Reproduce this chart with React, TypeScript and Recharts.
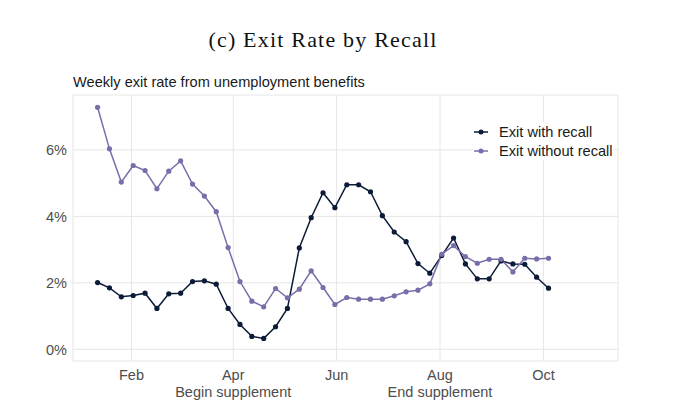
import React from "react";
import { LineChart, Line, XAxis, YAxis, CartesianGrid } from "recharts";

// weekly observations (week ending)
const weeks = [
  "2020-01-12", "2020-01-19", "2020-01-26", "2020-02-02", "2020-02-09", "2020-02-16",
  "2020-02-23", "2020-03-01", "2020-03-08", "2020-03-15", "2020-03-22", "2020-03-29",
  "2020-04-05", "2020-04-12", "2020-04-19", "2020-04-26", "2020-05-03", "2020-05-10",
  "2020-05-17", "2020-05-24", "2020-05-31", "2020-06-07", "2020-06-14", "2020-06-21",
  "2020-06-28", "2020-07-05", "2020-07-12", "2020-07-19", "2020-07-26", "2020-08-02",
  "2020-08-09", "2020-08-16", "2020-08-23", "2020-08-30", "2020-09-06", "2020-09-13",
  "2020-09-20", "2020-09-27", "2020-10-04",
];

const withRecall = [
  2.01, 1.85, 1.58, 1.62, 1.69, 1.23, 1.67, 1.69, 2.04, 2.06, 1.96, 1.23, 0.75,
  0.39, 0.33, 0.68, 1.23, 3.05, 3.96, 4.71, 4.26, 4.95, 4.95, 4.74, 4.02, 3.53,
  3.24, 2.58, 2.29, 2.82, 3.35, 2.57, 2.12, 2.12, 2.66, 2.57, 2.56, 2.17, 1.84,
];

const withoutRecall = [
  7.28, 6.03, 5.03, 5.53, 5.38, 4.83, 5.36, 5.67, 4.97, 4.61, 4.14, 3.06, 2.04,
  1.45, 1.28, 1.83, 1.55, 1.81, 2.36, 1.86, 1.35, 1.56, 1.51, 1.51, 1.51, 1.61,
  1.73, 1.78, 1.97, 2.86, 3.12, 2.79, 2.59, 2.71, 2.71, 2.33, 2.74, 2.72, 2.74,
];

const monthTicks = ["2020-02-01", "2020-04-01", "2020-06-01", "2020-08-01", "2020-10-01"];
const monthLabels = [["Feb"], ["Apr", "Begin supplement"], ["Jun"], ["Aug", "End supplement"], ["Oct"]];
const yTicks = [0, 2, 4, 6];

const DAY = 86400000;
const feb1 = Date.parse("2020-02-01");
const xDomain = [feb1 - 34.5 * DAY, feb1 + 287 * DAY];

const data = weeks.map((w, i) => ({
  t: Date.parse(w),
  recall: withRecall[i],
  noRecall: withoutRecall[i],
}));

const tickTimes = monthTicks.map((d) => Date.parse(d));

const DARK = "#0c1c38";
const PURPLE = "#7a6eaa";
const FONT = "'Liberation Sans', Arial, sans-serif";

const XTick = (props: any) => {
  const { x, y, payload } = props;
  const idx = tickTimes.indexOf(payload.value);
  const lines = idx >= 0 ? monthLabels[idx] : [];
  return (
    <text x={x} y={y} textAnchor="middle" fill="#4d4d4d" fontSize={14.5} fontFamily={FONT}>
      {lines.map((l, i) => (
        <tspan key={i} x={x} dy={i === 0 ? 19 : 17}>{l}</tspan>
      ))}
    </text>
  );
};

const legendItems = [
  { label: "Exit with recall", color: DARK },
  { label: "Exit without recall", color: PURPLE },
];

export default function App() {
  return (
    <div style={{ position: "absolute", left: 0, top: 0, width: 680, height: 420, background: "#fff" }}>
      <div
        style={{
          position: "absolute", left: 0, top: 29, width: 646, textAlign: "center",
          fontFamily: "'Liberation Serif', 'Times New Roman', serif", fontSize: 22,
          lineHeight: "22px", letterSpacing: 1.2, color: "#111",
        }}
      >
        (c) Exit Rate by Recall
      </div>
      <div
        style={{
          position: "absolute", left: 73, top: 75, fontFamily: FONT, fontSize: 14.6,
          lineHeight: "14px", color: "#1a1a1a",
        }}
      >
        Weekly exit rate from unemployment benefits
      </div>
      <LineChart
        width={680}
        height={420}
        data={data}
        margin={{ top: 95, right: 62, left: 13, bottom: 29 }}
      >
        <CartesianGrid stroke="#e6e6e6" strokeWidth={1} />
        <XAxis
          dataKey="t"
          type="number"
          domain={xDomain}
          ticks={tickTimes}
          allowDataOverflow
          axisLine={false}
          tickLine={false}
          tickSize={0}
          tickMargin={0}
          height={30}
          tick={<XTick />}
          interval={0}
        />
        <YAxis
          type="number"
          domain={[-0.35, 7.65]}
          ticks={yTicks}
          allowDataOverflow
          axisLine={false}
          tickLine={false}
          tickSize={0}
          tickMargin={6}
          width={60}
          tickFormatter={(v) => `${v}%`}
          tick={{ fill: "#4d4d4d", fontSize: 14.5, fontFamily: FONT }}
        />
        <Line
          type="linear"
          dataKey="recall"
          name="Exit with recall"
          stroke={DARK}
          strokeWidth={1.5}
          dot={{ r: 2.6, fill: DARK, stroke: DARK, strokeWidth: 0 }}
          isAnimationActive={false}
        />
        <Line
          type="linear"
          dataKey="noRecall"
          name="Exit without recall"
          stroke={PURPLE}
          strokeWidth={1.5}
          dot={{ r: 2.6, fill: PURPLE, stroke: PURPLE, strokeWidth: 0 }}
          isAnimationActive={false}
        />
      </LineChart>
      <div
        style={{
          position: "absolute", left: 473, top: 122, fontFamily: FONT, fontSize: 14.6,
          color: "#1a1a1a", background: "#fff",
        }}
      >
        {legendItems.map((it) => (
          <div key={it.label} style={{ display: "flex", alignItems: "center", height: 19 }}>
            <svg width={26} height={10}>
              <line x1={1} x2={15} y1={5} y2={5} stroke={it.color} strokeWidth={1.5} />
              <circle cx={8} cy={5} r={2.5} fill={it.color} />
            </svg>
            <span>{it.label}</span>
          </div>
        ))}
      </div>
    </div>
  );
}
